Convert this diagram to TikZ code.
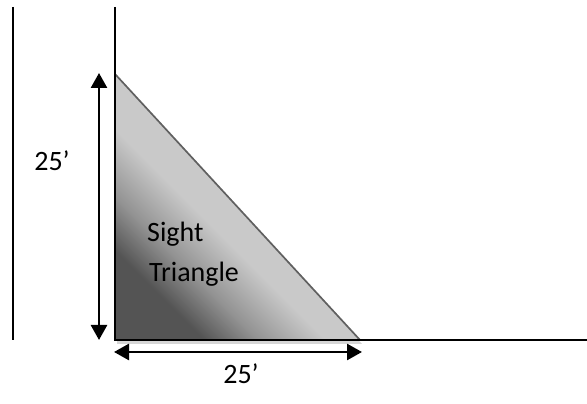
\documentclass[tikz,border=0pt]{standalone}
\usepackage{fontspec}
\setmainfont{Carlito}
\usetikzlibrary{arrows.meta}
\definecolor{darkcorner}{HTML}{545454}
\definecolor{midgray}{HTML}{939393}
\definecolor{lightfill}{HTML}{C9C9C9}
\definecolor{edgegray}{HTML}{606060}
\definecolor{shadowgray}{HTML}{D6D6D6}
\pgfdeclareverticalshading{sightshade}{100bp}{color(0bp)=(darkcorner); color(25bp)=(darkcorner); color(31.5bp)=(midgray); color(39.5bp)=(lightfill); color(100bp)=(lightfill)}
\tikzset{
  wall/.style={line width=2pt, black},
  dimarrow/.style={line width=2.6pt, {Triangle[length=15pt,width=16pt]}-{Triangle[length=15pt,width=16pt]}},
  lbl/.style={font=\fontsize{28}{32}\selectfont, inner sep=0pt}
}
\begin{document}
\begin{tikzpicture}[x=1pt,y=1pt]
\useasboundingbox (0,0) rectangle (587,404);
% key points
\coordinate (L1top) at (13,397);
\coordinate (L1bot) at (13,64);
\coordinate (L2top) at (115,397);
\coordinate (A) at (115,330);
\coordinate (B) at (115,64);
\coordinate (C) at (360,64);
\coordinate (Rend) at (587,64);
\coordinate (VA1) at (99,331);
\coordinate (VA2) at (99,64);
\coordinate (HA1) at (114,52);
\coordinate (HA2) at (362,52);
% shadow
\fill[shadowgray] ([xshift=2pt,yshift=-4pt]A) -- ([xshift=2pt,yshift=-4pt]B) -- ([xshift=2pt,yshift=-4pt]C) -- cycle;
% triangle fill
\fill[lightfill] (A) -- (B) -- (C) -- cycle;
\begin{scope}
\clip (A) -- (B) -- (C) -- cycle;
\shade[shading=sightshade, shading angle=-45] (115,64) rectangle (415,364);
\end{scope}
\draw[edgegray, line width=1.7pt, line join=round] (A) -- (C) -- (B);
% walls
\draw[wall] (L1top) -- (L1bot);
\draw[wall] (L2top) -- (B) -- (Rend);
% dimension arrows
\draw[dimarrow] (VA1) -- (VA2);
\draw[dimarrow] (HA1) -- (HA2);
% labels
\node[lbl] (dimV) at (52,243) {25’};
\node[lbl] (dimH) at (241,30) {25’};
\node[lbl, anchor=base west] (sight) at (147,162) {Sight};
\node[lbl, anchor=base west] (tri) at (149,122) {Triangle};
\end{tikzpicture}
\end{document}
